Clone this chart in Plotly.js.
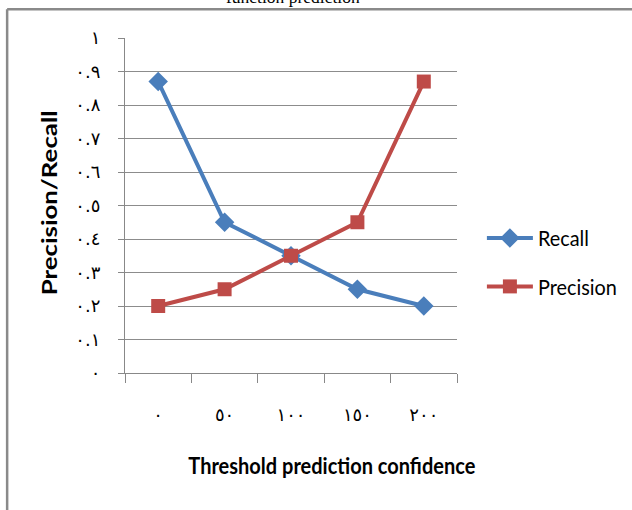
<!DOCTYPE html>
<html>
<head>
<meta charset="utf-8">
<script src="https://cdn.plot.ly/plotly-3.0.1.min.js"></script>
<style>
html,body{margin:0;padding:0;background:#fff;}
#chart{width:632px;height:510px;}
</style>
</head>
<body>
<div id="chart"></div>
<script>
var categories = ['٠', '٥٠', '١٠٠', '١٥٠', '٢٠٠'];
var recall = [0.87, 0.45, 0.35, 0.25, 0.2];
var precision = [0.2, 0.25, 0.35, 0.45, 0.87];
var yTickVals = [0, 0.1, 0.2, 0.3, 0.4, 0.5, 0.6, 0.7, 0.8, 0.9, 1];
var yTickText = ['٠', '٠.١', '٠.٢', '٠.٣', '٠.٤', '٠.٥', '٠.٦', '٠.٧', '٠.٨', '٠.٩', '١'];
var chartTitle = 'function prediction';
var xTitle = 'Threshold prediction confidence';
var yTitle = 'Precision/Recall';

var traces = [
  {x: categories, y: recall, name: 'Recall', type: 'scatter', mode: 'lines+markers',
   legendgroup: 'r',
   line: {color: '#4a7ebb', width: 4},
   marker: {symbol: 'diamond', size: 15, color: '#4a7ebb'}},
  {x: categories, y: precision, name: 'Precision', type: 'scatter', mode: 'lines+markers',
   legendgroup: 'p',
   line: {color: '#be4b48', width: 4},
   marker: {symbol: 'square', size: 14, color: '#be4b48'}}
];

var layout = {
  width: 632, height: 510,
  margin: {l: 125, r: 175, t: 38, b: 137, autoexpand: false},
  paper_bgcolor: '#fff', plot_bgcolor: '#fff',
  showlegend: true,
  xaxis: {
    type: 'category', range: [-0.5, 4.5], fixedrange: true,
    tickson: 'boundaries', ticks: 'outside', ticklen: 9, tickwidth: 1, tickcolor: '#888',
    showgrid: false, showline: true, linecolor: '#888', linewidth: 1, zeroline: false,
    tickfont: {family: 'DejaVu Sans', size: 18, color: '#000'},
    ticklabelstandoff: 25
  },
  yaxis: {
    range: [0, 1], fixedrange: true,
    tickmode: 'array', tickvals: yTickVals, ticktext: yTickText,
    ticks: 'outside', ticklen: 6, tickwidth: 1, tickcolor: '#888',
    showgrid: true, gridcolor: '#8c8c8c', gridwidth: 1,
    showline: true, linecolor: '#888', linewidth: 1, zeroline: false,
    tickfont: {family: 'DejaVu Sans', size: 18, color: '#000'},
    ticklabelstandoff: 14
  },
  legend: {x: 1.075, xanchor: 'left', y: 0.33, yanchor: 'middle',
           font: {family: 'Lato', size: 21, color: '#000'},
           itemwidth: 46, tracegroupgap: 18, traceorder: 'grouped', bgcolor: 'rgba(0,0,0,0)'},
  annotations: [
    {text: chartTitle, xref: 'paper', yref: 'paper', x: (293 - 125) / 332, y: 1 + (38 + 3) / 335,
     xanchor: 'center', yanchor: 'middle', showarrow: false,
     font: {family: 'Liberation Serif', size: 17.5, color: '#000'}},
    {text: xTitle, xref: 'paper', yref: 'paper', x: (332 - 125) / 332, y: (373 - 466) / 335,
     xanchor: 'center', yanchor: 'middle', showarrow: false,
     font: {family: 'Lato', size: 22, color: '#000', weight: 'bold'}},
    {text: yTitle, xref: 'paper', yref: 'paper', x: (48 - 125) / 332, y: (373 - 203) / 335,
     xanchor: 'center', yanchor: 'middle', showarrow: false, textangle: -90,
     font: {family: 'Lato', size: 21, color: '#000', weight: 'bold'}}
  ],
  shapes: [
    {type: 'line', xref: 'paper', yref: 'paper', x0: -0.355, x1: 1.6, y0: 1.086, y1: 1.086,
     line: {color: '#8a8a8a', width: 2.5}},
    {type: 'line', xref: 'paper', yref: 'paper', x0: -0.355, x1: -0.355, y0: 1.086, y1: -0.45,
     line: {color: '#8a8a8a', width: 2.5}}
  ]
};

Plotly.newPlot('chart', traces, layout, {displayModeBar: false, staticPlot: true}).then(function (gd) {
  // match the horizontally-compressed look of the original text
  var fit = {};
  fit[xTitle] = 287;
  fit[yTitle] = 185;
  fit['Recall'] = 51;
  fit['Precision'] = 79;
  var texts = gd.querySelectorAll('text.annotation-text, text.legendtext');
  texts.forEach(function (t) {
    var L = fit[t.textContent];
    if (L) {
      t.setAttribute('textLength', L);
      t.setAttribute('lengthAdjust', 'spacingAndGlyphs');
    }
  });
});
</script>
</body>
</html>
